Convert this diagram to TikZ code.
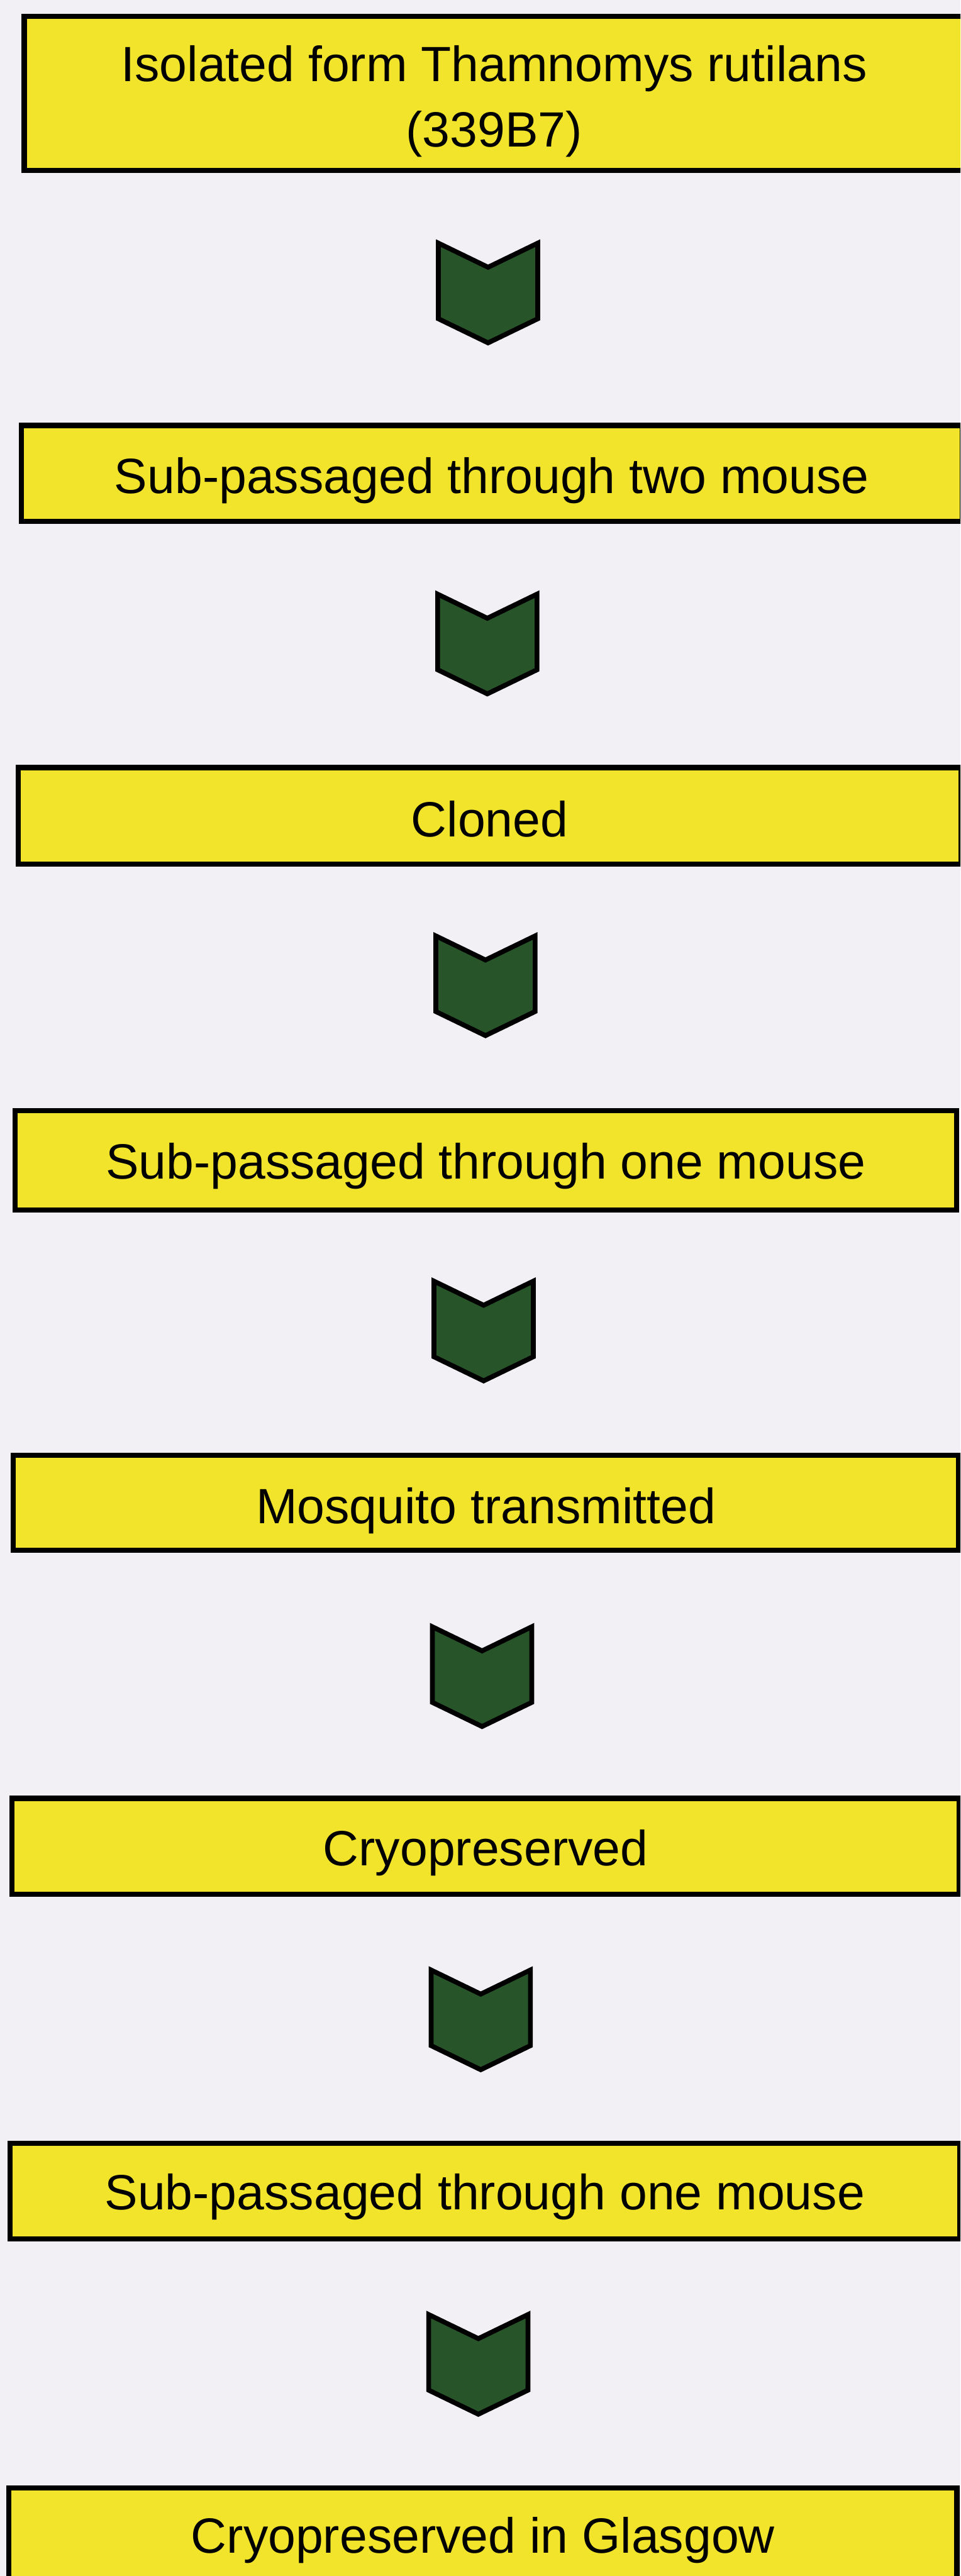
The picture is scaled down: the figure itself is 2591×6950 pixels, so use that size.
\documentclass[tikz,border=0pt]{standalone}
\usepackage{fontspec}
\setmainfont{Liberation Sans}
\usetikzlibrary{calc}
\definecolor{paper}{RGB}{243,240,245}
\definecolor{boxyellow}{RGB}{241,228,42}
\definecolor{chevgreen}{RGB}{40,84,42}
\tikzset{
  stagebox/.style={draw=black, fill=boxyellow, line width=0.14cm, inner sep=0pt, outer sep=0pt},
  stagetext/.style={anchor=base, inner sep=0pt, font=\fontsize{38pt}{50pt}\selectfont},
  chev/.style={draw=black, fill=chevgreen, line width=0.13cm, line join=miter}
}
\newcommand{\chevron}[1]{%
  \draw[chev] (#1) ++(-134,-134) -- ++(134,65) -- ++(134,-65) -- ++(0,204) -- ++(-134,65) -- ++(-134,-65) -- cycle;}
\begin{document}
\begin{tikzpicture}[x=0.01cm,y=-0.01cm]
\fill[paper] (0,0) rectangle (2591,6950);
\useasboundingbox (0,0) rectangle (2591,6950);
\clip (0,0) rectangle (2591,6950);
% boxes
\node[stagebox, minimum width=25.34cm, minimum height=4.16cm] (b1) at (1333,252) {};
\node[stagebox, minimum width=25.37cm, minimum height=2.59cm] (b2) at (1326.5,1277.5) {};
\node[stagebox, minimum width=25.42cm, minimum height=2.60cm] (b3) at (1321,2201) {};
\node[stagebox, minimum width=25.39cm, minimum height=2.68cm] (b4) at (1310.5,3131) {};
\node[stagebox, minimum width=25.48cm, minimum height=2.56cm] (b5) at (1311,4054) {};
\node[stagebox, minimum width=25.54cm, minimum height=2.58cm] (b6) at (1310,4981) {};
\node[stagebox, minimum width=25.60cm, minimum height=2.59cm] (b7) at (1308,5911.5) {};
\node[stagebox, minimum width=25.56cm, minimum height=2.73cm] (b8) at (1303,6848.5) {};
% texts
\node[stagetext] (t1a) at (b1.center |- 0,219) {Isolated form Thamnomys rutilans};
\node[stagetext] (t1b) at (b1.center |- 0,396) {(339B7)};
\node[stagetext] (t2) at (b2.center |- 0,1331) {Sub-passaged through two mouse};
\node[stagetext] (t3) at (b3.center |- 0,2258) {Cloned};
\node[stagetext] (t4) at (b4.center |- 0,3180) {Sub-passaged through one mouse};
\node[stagetext] (t5) at (b5.center |- 0,4110) {Mosquito transmitted};
\node[stagetext] (t6) at (b6.center |- 0,5034) {Cryopreserved};
\node[stagetext] (t7) at (b7.center |- 0,5962) {Sub-passaged through one mouse};
\node[stagetext] (t8) at (b8.center |- 0,6888) {Cryopreserved in Glasgow};
% chevron connectors
\coordinate (c1) at ($($(b1.south)!0.5!(b2.north)$)+(-13,-14)$);
\coordinate (c2) at ($($(b2.south)!0.5!(b3.north)$)+(-9,-2)$);
\coordinate (c3) at ($($(b3.south)!0.5!(b4.north)$)+(-6,-5)$);
\coordinate (c4) at ($($(b4.south)!0.5!(b5.north)$)+(-6,-5)$);
\coordinate (c5) at ($($(b5.south)!0.5!(b6.north)$)+(-10,6)$);
\coordinate (c6) at ($($(b6.south)!0.5!(b7.north)$)+(-12,3)$);
\coordinate (c7) at ($($(b7.south)!0.5!(b8.north)$)+(-15,2)$);
\foreach \c in {c1,c2,c3,c4,c5,c6,c7} {\chevron{\c}}
\end{tikzpicture}
\end{document}
